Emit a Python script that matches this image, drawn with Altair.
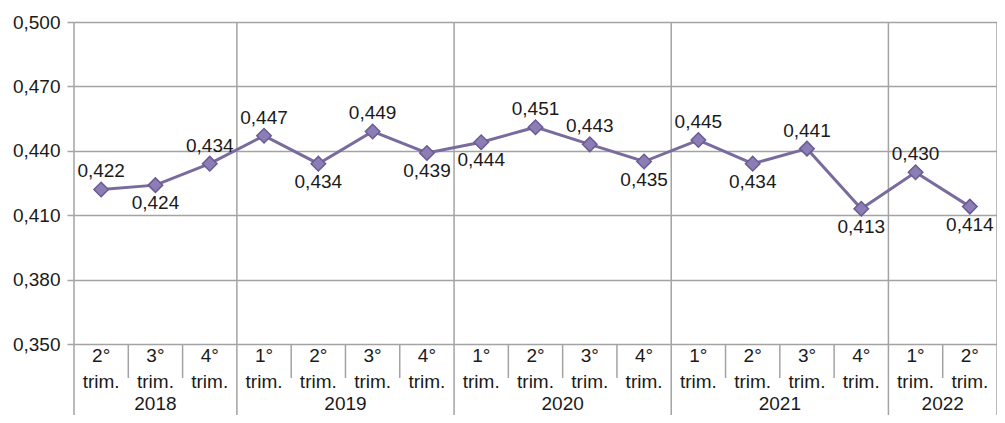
import altair as alt
import pandas as pd

years = ["2018", "2018", "2018",
         "2019", "2019", "2019", "2019",
         "2020", "2020", "2020", "2020",
         "2021", "2021", "2021", "2021",
         "2022", "2022"]
quarters = ["2°", "3°", "4°",
            "1°", "2°", "3°", "4°",
            "1°", "2°", "3°", "4°",
            "1°", "2°", "3°", "4°",
            "1°", "2°"]
values = [0.422, 0.424, 0.434,
          0.447, 0.434, 0.449, 0.439,
          0.444, 0.451, 0.443, 0.435,
          0.445, 0.434, 0.441, 0.413,
          0.430, 0.414]
label_side = ["above", "below", "above",
              "above", "below", "above", "below",
              "below", "above", "above", "below",
              "above", "below", "above", "below",
              "above", "below"]
y_ticks = [0.350, 0.380, 0.410, 0.440, 0.470, 0.500]

FONT = "Liberation Sans"
FS = 19
W, H = 923, 322
n = len(values)

df = pd.DataFrame({
    "pos": [i + 0.5 for i in range(n)],
    "value": values,
    "label": [f"{v:.3f}".replace(".", ",") for v in values],
    "side": label_side,
    "quarter": quarters,
    "year": years,
    "trim": ["trim."] * n,
})

# separators between categories
short_b, long_b = [], [0]
for i in range(1, n + 1):
    if i == n or years[i] != years[i - 1]:
        long_b.append(i)
    else:
        short_b.append(i)
sep_short = pd.DataFrame({"b": short_b})
sep_long = pd.DataFrame({"b": long_b})

# year label positions
year_names, year_mids = [], []
for yv in dict.fromkeys(years):
    idx = [i for i, y in enumerate(years) if y == yv]
    year_names.append(yv)
    year_mids.append((idx[0] + idx[-1] + 1) / 2)
ydf = pd.DataFrame({"year": year_names, "mid": year_mids})

xs = alt.Scale(domain=[0, n], nice=False, zero=False)
ys = alt.Scale(domain=[0.35, 0.5], nice=False, zero=False)

grid_color = "#A3A3A3"
text_color = "#1A1A1A"

yaxis = alt.Axis(values=y_ticks, title=None, grid=True,
                 gridColor=grid_color, gridWidth=1.5,
                 domain=False, tickColor=grid_color, tickSize=7,
                 tickWidth=1.5, labelPadding=7,
                 labelFont=FONT, labelFontSize=FS, labelColor=text_color,
                 labelExpr="replace(format(datum.value, '.3f'), '.', ',')")

X = alt.X("pos:Q", scale=xs, axis=None)
Y = alt.Y("value:Q", scale=ys, axis=yaxis)

base = alt.Chart(df)

line = base.mark_line(color="#7A6B9E", strokeWidth=3).encode(x=X, y=Y)

points = base.mark_point(shape="diamond", filled=True, size=210, fill="#8C7EB5",
                         stroke="#6A5B94", strokeWidth=1.5, opacity=1).encode(x=X, y=Y)

lab_above = base.transform_filter("datum.side == 'above'").mark_text(
    font=FONT, fontSize=FS, color=text_color, dy=-18, baseline="middle").encode(
    x=X, y=Y, text="label:N")
lab_below = base.transform_filter("datum.side == 'below'").mark_text(
    font=FONT, fontSize=FS, color=text_color, dy=18, baseline="middle").encode(
    x=X, y=Y, text="label:N")

short_rules = alt.Chart(sep_short).mark_rule(color=grid_color, strokeWidth=1.5).encode(
    x=alt.X("b:Q", scale=xs, axis=None), y=alt.value(H), y2=alt.value(H + 34))
long_rules = alt.Chart(sep_long).mark_rule(color=grid_color, strokeWidth=1.5).encode(
    x=alt.X("b:Q", scale=xs, axis=None), y=alt.value(0), y2=alt.value(H + 71))

q_text = base.mark_text(font=FONT, fontSize=FS, color=text_color, baseline="middle").encode(
    x=X, y=alt.value(H + 12), text="quarter:N")
t_text = base.mark_text(font=FONT, fontSize=FS, color=text_color, baseline="middle").encode(
    x=X, y=alt.value(H + 38), text="trim:N")
y_text = alt.Chart(ydf).mark_text(font=FONT, fontSize=FS, color=text_color, baseline="middle").encode(
    x=alt.X("mid:Q", scale=xs, axis=None), y=alt.value(H + 60), text="year:N")

chart = alt.layer(short_rules, long_rules, line, points, lab_above, lab_below,
                  q_text, t_text, y_text).properties(
    width=W, height=H,
    autosize=alt.AutoSizeParams(type="none"),
    padding={"left": 66, "top": 14, "right": 0, "bottom": 71},
).configure_view(stroke=None)

chart.save("out.html", embed_options={"renderer": "svg", "actions": False})
